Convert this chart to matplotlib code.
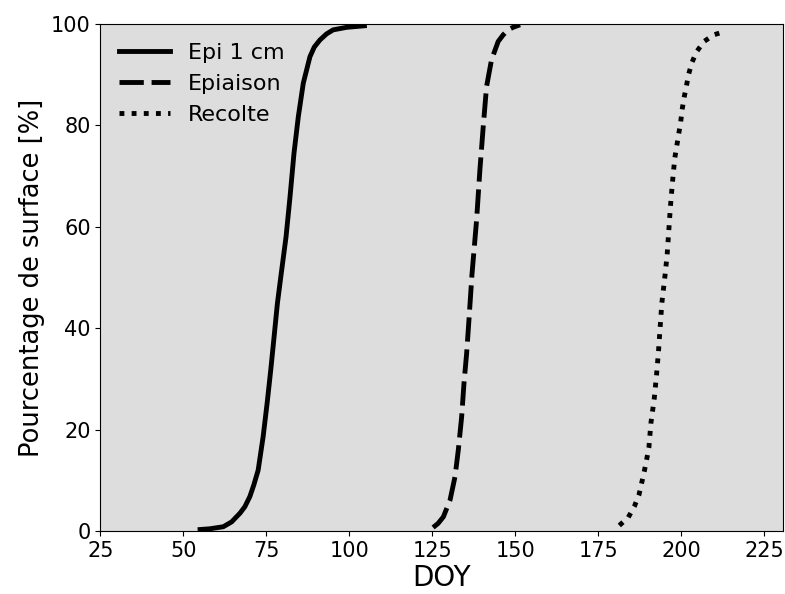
import matplotlib

matplotlib.use("Agg")
import matplotlib.pyplot as plt

# Values
epi_doy = [55.0, 58.0, 62.0, 64.5, 67.0, 68.5, 70.0, 71.2, 72.5, 74.0, 75.2,
           76.3, 77.3, 78.3, 79.4, 80.9, 82.1, 83.3, 84.6, 86.1, 87.1, 88.1,
           89.4, 91.1, 93.1, 95.1, 99.2, 104.5]
epi_pct = [0.3, 0.45, 0.85, 1.8, 3.5, 4.8, 6.8, 9.1, 12.0, 18.6, 25.2,
           31.8, 38.3, 44.9, 50.5, 58.0, 65.9, 74.5, 81.7, 88.3, 90.9, 93.5,
           95.4, 96.8, 98.0, 98.8, 99.3, 99.6]

epiaison_doy = [125.2, 126.7, 128.3, 130.3, 131.8, 132.8, 133.8, 134.5, 135.3,
                136.0, 136.9, 138.3, 139.3, 140.3, 141.3, 142.8, 144.8, 146.3,
                147.8, 149.3, 151.4]
epiaison_pct = [0.7, 1.5, 2.8, 6.1, 10.7, 16.0, 22.5, 29.1, 35.0,
                41.6, 50.5, 61.3, 71.2, 79.7, 87.6, 92.9, 96.5, 97.8,
                98.8, 99.3, 99.8]

recolte_doy = [181.3, 184.0, 185.8, 187.2, 188.0, 188.8, 189.5, 190.2, 190.8,
               191.8, 192.5, 193.1, 193.6, 194.1, 195.0, 195.7, 196.2, 196.7,
               197.3, 198.0, 199.2, 199.8, 200.2, 200.8, 201.5, 202.2, 203.2,
               204.6, 206.8, 209.7, 213.1]
recolte_pct = [1.1, 2.7, 4.8, 7.1, 9.4, 11.7, 14.0, 16.4, 21.2,
               26.0, 30.7, 35.4, 40.2, 44.9, 50.0, 54.4, 59.2, 64.0,
               68.7, 73.5, 78.3, 80.7, 83.0, 85.4, 87.7, 90.1, 92.4,
               94.5, 96.5, 97.8, 98.5]

x_ticks = [25, 50, 75, 100, 125, 150, 175, 200, 225]
y_ticks = [0, 20, 40, 60, 80, 100]

fig = plt.figure(figsize=(7.85, 5.94), dpi=100)
ax = fig.add_axes([0.128, 0.106, 0.869, 0.854])
ax.set_facecolor("#dddddd")

lw = 3.5
style = dict(color="black", linewidth=lw, solid_joinstyle="round",
             dash_joinstyle="round")
ax.plot(epi_doy, epi_pct, linestyle="-", label="Epi 1 cm", **style)
ax.plot(epiaison_doy, epiaison_pct, linestyle=(0, (5.0, 1.6)),
        label="Epiaison", **style)
ax.plot(recolte_doy, recolte_pct, linestyle=(0, (1.0, 1.5)),
        label="Recolte", **style)

ax.set_xlim(25, 230.5)
ax.set_ylim(0, 100)
ax.set_xticks(x_ticks)
ax.set_yticks(y_ticks)
ax.tick_params(labelsize=15)

ax.set_xlabel("DOY", fontsize=20, labelpad=2)
ax.set_ylabel("Pourcentage de surface [%]", fontsize=18.5)

ax.legend(loc="upper left", frameon=False, fontsize=16, handlelength=2.3,
          borderaxespad=0.45)

fig.savefig("out.png", dpi=100)
plt.close(fig)
